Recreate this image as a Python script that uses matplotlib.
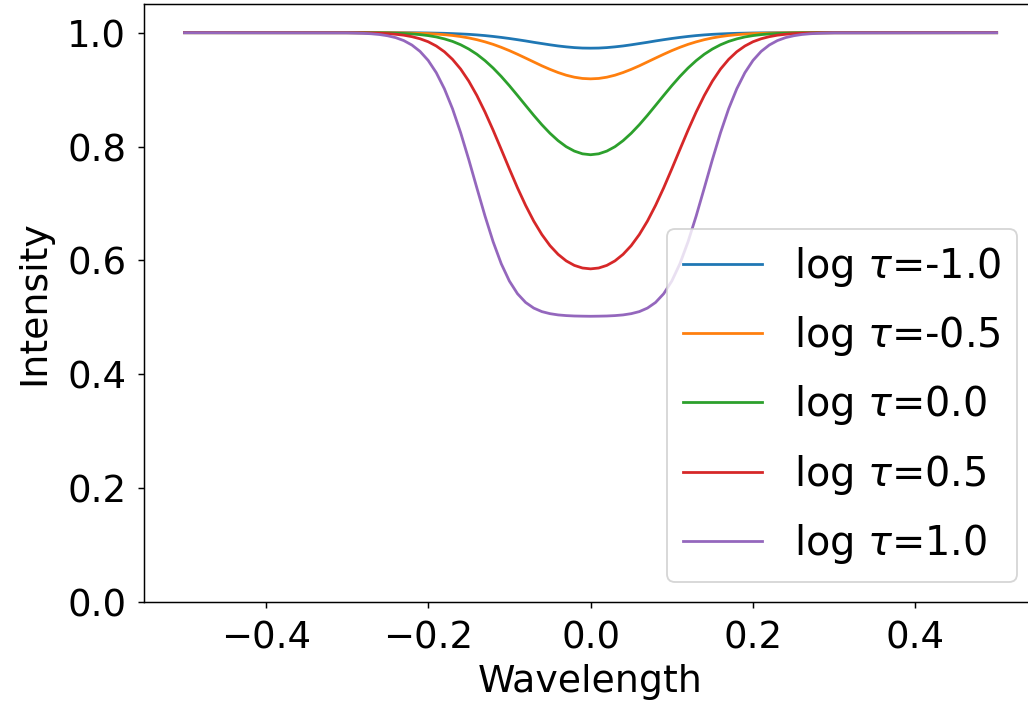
import matplotlib
matplotlib.use('Agg')
import matplotlib.pyplot as plt


# wavelength samples
wavelength = [-0.5,
              -0.30, -0.29, -0.28, -0.27, -0.26, -0.25, -0.24, -0.23, -0.22, -0.21,
              -0.20, -0.19, -0.18, -0.17, -0.16, -0.15, -0.14, -0.13, -0.12, -0.11,
              -0.10, -0.09, -0.08, -0.07, -0.06, -0.05, -0.04, -0.03, -0.02, -0.01,
              0.0,
              0.01, 0.02, 0.03, 0.04, 0.05, 0.06, 0.07, 0.08, 0.09, 0.10,
              0.11, 0.12, 0.13, 0.14, 0.15, 0.16, 0.17, 0.18, 0.19, 0.20,
              0.21, 0.22, 0.23, 0.24, 0.25, 0.26, 0.27, 0.28, 0.29, 0.30,
              0.5]

log_tau_labels = ['-1.0', '-0.5', '0.0', '0.5', '1.0']

intensity_m10 = [1.0,
                 1.0, 1.0, 1.0, 1.0, 1.0, 1.0, 0.9999, 0.9999, 0.9998, 0.9997,
                 0.9995, 0.9992, 0.9989, 0.9984, 0.9978, 0.9971, 0.9961, 0.9949, 0.9934, 0.9917,
                 0.9898, 0.9877, 0.9855, 0.9831, 0.9809, 0.9787, 0.9767, 0.9751, 0.9738, 0.9730,
                 0.9728,
                 0.9730, 0.9738, 0.9751, 0.9767, 0.9787, 0.9809, 0.9831, 0.9855, 0.9877, 0.9898,
                 0.9917, 0.9934, 0.9949, 0.9961, 0.9971, 0.9978, 0.9984, 0.9989, 0.9992, 0.9995,
                 0.9997, 0.9998, 0.9999, 0.9999, 1.0, 1.0, 1.0, 1.0, 1.0, 1.0,
                 1.0]

intensity_m05 = [1.0,
                 1.0, 1.0, 1.0, 0.9999, 0.9999, 0.9998, 0.9997, 0.9996, 0.9993, 0.9989,
                 0.9984, 0.9976, 0.9965, 0.9951, 0.9932, 0.9908, 0.9877, 0.9839, 0.9795, 0.9743,
                 0.9685, 0.9621, 0.9554, 0.9486, 0.9418, 0.9356, 0.9300, 0.9253, 0.9218, 0.9196,
                 0.9189,
                 0.9196, 0.9218, 0.9253, 0.9300, 0.9356, 0.9418, 0.9486, 0.9554, 0.9621, 0.9685,
                 0.9743, 0.9795, 0.9839, 0.9877, 0.9908, 0.9932, 0.9951, 0.9965, 0.9976, 0.9984,
                 0.9989, 0.9993, 0.9996, 0.9997, 0.9998, 0.9999, 0.9999, 1.0, 1.0, 1.0,
                 1.0]

intensity_00 = [1.0,
                1.0, 0.9999, 0.9999, 0.9998, 0.9997, 0.9995, 0.9991, 0.9986, 0.9978, 0.9966,
                0.9949, 0.9925, 0.9891, 0.9847, 0.9788, 0.9713, 0.9621, 0.9509, 0.9379, 0.9231,
                0.9069, 0.8897, 0.8722, 0.8548, 0.8383, 0.8233, 0.8103, 0.7997, 0.7920, 0.7872,
                0.7856,
                0.7872, 0.7920, 0.7997, 0.8103, 0.8233, 0.8383, 0.8548, 0.8722, 0.8897, 0.9069,
                0.9231, 0.9379, 0.9509, 0.9621, 0.9713, 0.9788, 0.9847, 0.9891, 0.9925, 0.9949,
                0.9966, 0.9978, 0.9986, 0.9991, 0.9995, 0.9997, 0.9998, 0.9999, 0.9999, 1.0,
                1.0]

intensity_p05 = [1.0,
                 0.9999, 0.9998, 0.9997, 0.9994, 0.9990, 0.9983, 0.9972, 0.9956, 0.9930, 0.9893,
                 0.9841, 0.9766, 0.9665, 0.9531, 0.9361, 0.9149, 0.8896, 0.8606, 0.8287, 0.7949,
                 0.7607, 0.7274, 0.6966, 0.6690, 0.6454, 0.6259, 0.6106, 0.5991, 0.5912, 0.5866,
                 0.5851,
                 0.5866, 0.5912, 0.5991, 0.6106, 0.6259, 0.6454, 0.6690, 0.6966, 0.7274, 0.7607,
                 0.7949, 0.8287, 0.8606, 0.8896, 0.9149, 0.9361, 0.9531, 0.9665, 0.9766, 0.9841,
                 0.9893, 0.9930, 0.9956, 0.9972, 0.9983, 0.9990, 0.9994, 0.9997, 0.9998, 0.9999,
                 1.0]

intensity_p10 = [1.0,
                 0.9997, 0.9994, 0.9989, 0.9981, 0.9968, 0.9946, 0.9913, 0.9861, 0.9783, 0.9671,
                 0.9513, 0.9297, 0.9014, 0.8663, 0.8243, 0.7771, 0.7271, 0.6779, 0.6327, 0.5941,
                 0.5637, 0.5414, 0.5261, 0.5162, 0.5100, 0.5064, 0.5042, 0.5030, 0.5023, 0.5020,
                 0.5018,
                 0.5020, 0.5023, 0.5030, 0.5042, 0.5064, 0.5100, 0.5162, 0.5261, 0.5414, 0.5637,
                 0.5941, 0.6327, 0.6779, 0.7271, 0.7771, 0.8243, 0.8663, 0.9014, 0.9297, 0.9513,
                 0.9671, 0.9783, 0.9861, 0.9913, 0.9946, 0.9968, 0.9981, 0.9989, 0.9994, 0.9997,
                 1.0]

profiles = [intensity_m10, intensity_m05, intensity_00, intensity_p05, intensity_p10]


plt.rcParams['font.size'] = 20.5
plt.rcParams['xtick.labelsize'] = 20
plt.rcParams['ytick.labelsize'] = 20
plt.rcParams['xtick.major.pad'] = 6
plt.rcParams['ytick.major.pad'] = 6

# 1028x704 px
fig = plt.figure(figsize=(1028 / 133, 704 / 133), dpi=133)
# the original image is cut off on the right, so the axes run past the edge
ax = fig.add_axes([0.140, 0.145, 0.869, 0.849])

for lbl, prof in zip(log_tau_labels, profiles):
    ax.plot(wavelength, prof, label=r'log $\tau$=' + lbl)

ax.set_xlim(-0.55, 0.55)
ax.set_ylim(0, 1.05)
ax.set_xticks([-0.4, -0.2, 0.0, 0.2, 0.4])
ax.set_yticks([0.0, 0.2, 0.4, 0.6, 0.8, 1.0])
ax.set_xlabel('Wavelength')
ax.set_ylabel('Intensity', labelpad=8)

ax.legend(loc='lower right', fontsize=21.5, labelspacing=0.64)

fig.savefig('out.png', dpi=133)
